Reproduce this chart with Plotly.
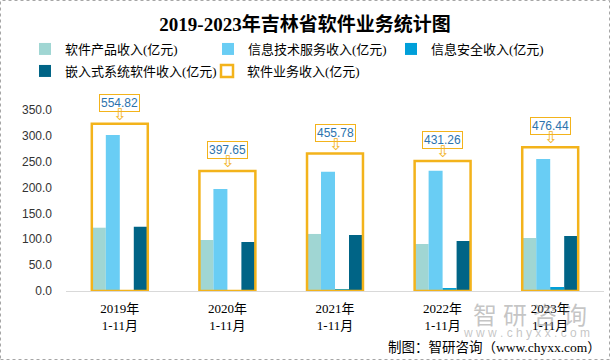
import plotly.graph_objects as go

years = ["2019年<br>1-11月", "2020年<br>1-11月", "2021年<br>1-11月", "2022年<br>1-11月", "2023年<br>1-11月"]
software_products = [122.4, 98.6, 110.3, 90.9, 102.5]
it_services = [301.7, 197.3, 230.8, 232.7, 255.3]
info_security = [1.9, 1.8, 2.3, 5.8, 7.7]
embedded = [124.4, 94.8, 108.3, 96.7, 106.4]
software_total = [554.82, 397.65, 455.78, 431.26, 476.44]

names = ["软件产品收入(亿元)", "信息技术服务收入(亿元)", "信息安全收入(亿元)",
         "嵌入式系统软件收入(亿元)", "软件业务收入(亿元)"]
colors = ["#A0D6D3", "#69CDF4", "#009FD9", "#006486"]
ORANGE = "#F3B31B"
LABEL_BLUE = "#2C73AE"

W, H = 610, 360
L, R, T, B = 66, 6, 110, 69
pw, ph = W - L - R, H - T - B

legend_ids = ["legend", "legend2", "legend3", "legend4", "legend5"]
legend_pos = [(25, 34), (208, 34), (391, 34), (25, 56), (207, 56)]  # px from top-left

BW = 0.13
fig = go.Figure()
series = [software_products, it_services, info_security, embedded]
for i, (vals, nm, c) in enumerate(zip(series, names[:4], colors)):
    fig.add_trace(go.Bar(
        x=years, y=vals, name=nm, marker=dict(color=c, line=dict(width=0)),
        width=BW, offset=-2 * BW + i * BW, yaxis="y", hoverinfo="y+name",
        legend=legend_ids[i],
    ))

fig.add_trace(go.Bar(
    x=years, y=software_total, name=names[4], yaxis="y2",
    width=4 * BW, offset=-2 * BW, legend=legend_ids[4],
    marker=dict(color="rgba(0,0,0,0)", line=dict(color=ORANGE, width=2.5)),
))

annotations = []
for x, v in zip(years, software_total):
    annotations.append(dict(
        x=x, y=v, xref="x", yref="y2", text=f"{v:.2f}", showarrow=False,
        yanchor="bottom", yshift=12, bgcolor="white", bordercolor=ORANGE,
        borderwidth=1, borderpad=1,
        font=dict(family="Liberation Sans, Arial", size=12, color=LABEL_BLUE),
    ))
    annotations.append(dict(
        x=x, y=v, xref="x", yref="y2", text="⇩", showarrow=False,
        yanchor="bottom", yshift=-2,
        font=dict(family="DejaVu Sans", size=16, color=ORANGE),
    ))

# watermark
annotations.append(dict(
    xref="paper", yref="paper", x=(530 - L) / pw, y=(H - B - 313) / ph,
    xanchor="center", yanchor="middle",
    text="智\u2005研\u2005咨\u2005询", showarrow=False,
    font=dict(family="Noto Sans CJK SC", size=24, color="rgba(140,140,140,0.5)"),
))
annotations.append(dict(
    xref="paper", yref="paper", x=(526 - L) / pw, y=(H - B - 333) / ph,
    xanchor="center", yanchor="middle",
    text="w w w . c h y x x . c o m", showarrow=False,
    font=dict(family="Liberation Sans", size=12, color="rgba(140,140,140,0.5)"),
))
# source
annotations.append(dict(
    xref="paper", yref="paper", x=(603 - L) / pw, y=(H - B - 347) / ph,
    xanchor="right", yanchor="middle",
    text="制图：智研咨询（www.chyxx.com）", showarrow=False,
    font=dict(family="Liberation Serif, Noto Sans CJK SC", size=13.5, color="#000000"),
))

shapes = [dict(
    type="rect", xref="paper", yref="paper",
    x0=(0.5 - L) / pw, x1=(W - 0.5 - L) / pw,
    y0=(H - B - (H - 0.5)) / ph, y1=(H - B - 0.5) / ph,
    line=dict(color="#A6A6A6", width=1, dash="dot"), fillcolor="rgba(0,0,0,0)",
    layer="below",
)]

legend_font = dict(family="Liberation Serif, Noto Sans CJK SC", size=13, color="#000000")
legends = {}
for lid, (lx, ly) in zip(legend_ids, legend_pos):
    legends[lid] = dict(
        xref="container", yref="container", x=lx / W, y=1 - ly / H,
        xanchor="left", yanchor="top", orientation="h",
        font=legend_font, itemclick=False, itemdoubleclick=False,
        bgcolor="rgba(0,0,0,0)",
    )

fig.update_layout(
    width=W, height=H,
    margin=dict(l=L, r=R, t=T, b=B, autoexpand=False),
    paper_bgcolor="white", plot_bgcolor="white",
    barmode="overlay",
    title=dict(
        text="<b>2019-2023年吉林省软件业务统计图</b>",
        x=0.5, xref="container", xanchor="center",
        y=1 - 24 / H, yref="container", yanchor="middle",
        font=dict(family="Liberation Serif, Noto Sans CJK SC", size=19, color="#000000"),
    ),
    xaxis=dict(
        type="category", showgrid=False, showline=True, linecolor="#D9D9D9",
        linewidth=1, ticks="", zeroline=False, ticklabelstandoff=5,
        tickfont=dict(family="Liberation Serif, Noto Sans CJK SC", size=13, color="#000000"),
    ),
    yaxis=dict(
        range=[0, 350], tickvals=[0, 50, 100, 150, 200, 250, 300, 350],
        tickformat=".1f", showgrid=False, showline=False, zeroline=False,
        ticks="", ticklabelstandoff=13,
        tickfont=dict(family="Liberation Sans, Arial", size=12, color="#333333"),
    ),
    yaxis2=dict(range=[0, 600], overlaying="y", side="right", visible=False,
                showgrid=False, zeroline=False),
    annotations=annotations,
    shapes=shapes,
    showlegend=True,
    **legends,
)

fig.write_html(
    "out.html",
    config={"displayModeBar": False},
    post_script="document.body.style.margin='0px';document.body.style.overflow='hidden';",
)
